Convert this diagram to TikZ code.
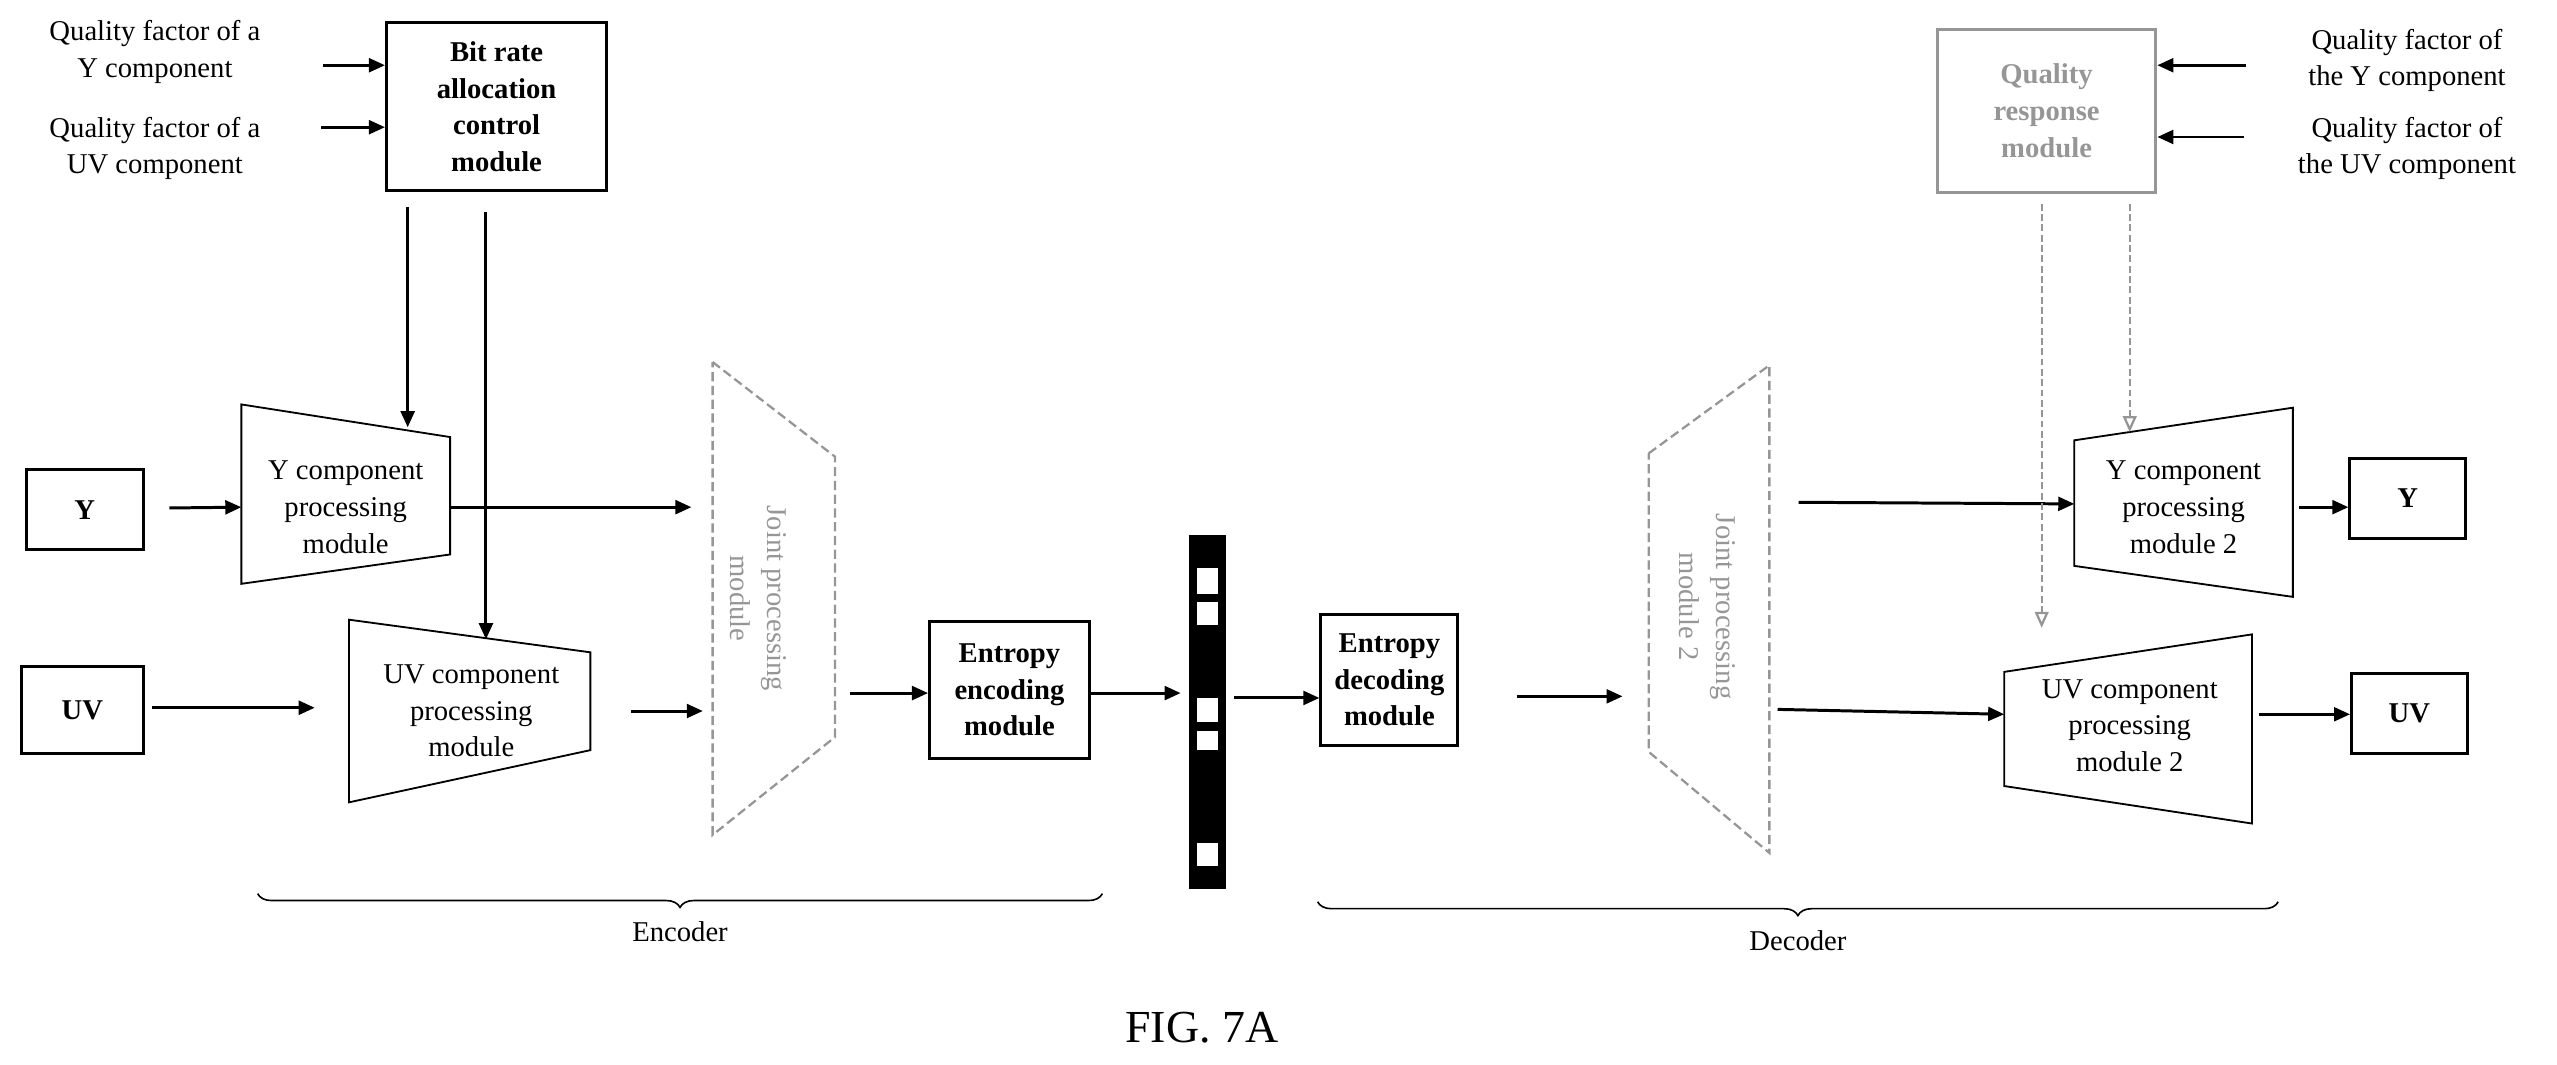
\documentclass[tikz,border=0pt]{standalone}
\usepackage{fontspec}
\setmainfont{Liberation Serif}
\usetikzlibrary{arrows.meta,decorations.pathreplacing}
\definecolor{gr}{RGB}{150,150,150}
\begin{document}
\begin{tikzpicture}[x=0.25mm,y=-0.25mm,
  font=\fontsize{12.5}{16}\selectfont,
  txt/.style={align=center,inner sep=0pt},
  box/.style={draw,line width=1.3pt,align=center,font=\fontsize{12.5}{16}\selectfont\bfseries,inner sep=0pt},
  arr/.style={line width=1.3pt,-{Triangle[length=7pt,width=6pt]}},
  garr/.style={gr,line width=1pt,dashed,dash pattern=on 3pt off 1.5pt,-{Triangle[open,length=7pt,width=6pt]}},
  trap/.style={draw,line width=0.8pt},
  gtrap/.style={draw=gr,line width=1pt,dash pattern=on 4pt off 2pt},
  brc/.style={decorate,decoration={brace,amplitude=6pt},line width=0.7pt}]
\useasboundingbox (0,0) rectangle (1568,653);
% left inputs
\node[txt] (qy) at (95,32) {Quality factor of a\\Y component};
\node[txt] (quv) at (95,91) {Quality factor of a\\UV component};
\node[box,minimum width=135*0.25mm,minimum height=103*0.25mm] (bit) at (304.5,65.5) {Bit rate\\allocation\\control\\module};
\coordinate (a1) at (198,40); \coordinate (a2) at (197,78);
\draw[arr] (a1) -- (a1-|bit.west);
\draw[arr] (a2) -- (a2-|bit.west);
% Y / UV input boxes
\node[box,minimum width=72*0.25mm,minimum height=49*0.25mm] (y) at (52,312.5) {Y};
\node[box,minimum width=75*0.25mm,minimum height=53*0.25mm] (uv) at (50.5,435.5) {UV};
% Y trapezoid
\draw[trap] (148,248) coordinate (yt1) -- (276,268) -- (276,340) -- (148,358) -- cycle;
\node[txt] (ytrap) at (212,311) {Y component\\processing\\module};
% UV trapezoid
\draw[trap] (214,380) coordinate (ut1) -- (362,400) -- (362,460) -- (214,492) -- cycle;
\node[txt] (uvtrap) at (289,436) {UV component\\processing\\module};
\coordinate (yin) at (148,311); \coordinate (uin) at (193,434);
\draw[arr] (y.east)++(15,-1) -- (yin);
\draw[arr] (93,434) -- (uin);
\coordinate (b1) at (250,127); \coordinate (b1e) at (250,262);
\coordinate (b2) at (298,130); \coordinate (b2e) at (298,392);
\draw[arr] (b1) -- (b1e);
\draw[arr] (b2) -- (b2e);
% joint processing module
\draw[gtrap] (437,222) -- (512,280) -- (512,452) -- (437,512) -- cycle;
\node[txt,gr,rotate=-90] (joint) at (465,367) {Joint processing\\module};
\draw[arr] (276,311) -- (424,311);
\draw[arr] (387,436) -- (431,436);
% entropy encoding
\node[box,minimum width=98*0.25mm,minimum height=84*0.25mm] (enc) at (619,423) {Entropy\\encoding\\module};
\draw[arr] (521,425) -- (enc.west|-0,425);
\draw[arr] (enc.east|-0,425) -- (724,425);
% bitstream
\fill (729,328) rectangle (752,545);
\foreach \yy/\hh in {348/16,369/14,428/15,448/12,517/14}
  \fill[white] (734,\yy) rectangle (747,\yy+\hh);
\coordinate (bs) at (752,428);
% entropy decoding
\node[box,minimum width=84*0.25mm,minimum height=80*0.25mm] (dec) at (852,417) {Entropy\\decoding\\module};
\draw[arr] (757,428) -- (dec.west|-0,428);
\draw[arr] (930,427) -- (995,427);
% joint 2
\draw[gtrap] (1011,278) -- (1085,224) -- (1085,523) -- (1011,461) -- cycle;
\node[txt,gr,rotate=-90] (joint2) at (1047,372) {Joint processing\\module 2};
% Y trap 2
\draw[trap] (1272,270) -- (1406,250) -- (1406,366) -- (1272,347) -- cycle;
\node[txt] (ytrap2) at (1339,311) {Y component\\processing\\module 2};
% UV trap 2
\draw[trap] (1229,412) -- (1381,389) -- (1381,505) -- (1229,482) -- cycle;
\node[txt] (uvtrap2) at (1306,445) {UV component\\processing\\module 2};
\draw[arr] (1103,308) -- (1272,309);
\draw[arr] (1090,435) -- (1229,438);
\node[box,minimum width=71*0.25mm,minimum height=49*0.25mm] (y2) at (1476.5,305.5) {Y};
\node[box,minimum width=71*0.25mm,minimum height=49*0.25mm] (uv2) at (1477.5,437.5) {UV};
\draw[arr] (1410,311) -- (y2.west|-0,311);
\draw[arr] (1385,438) -- (uv2.west|-0,438);
% quality response
\node[draw=gr,line width=1.3pt,align=center,text=gr,font=\fontsize{12.5}{16}\selectfont\bfseries,minimum width=134*0.25mm,minimum height=100*0.25mm,inner sep=0pt] (qr) at (1255,68) {Quality\\response\\module};
\node[txt] (qy2) at (1476,37) {Quality factor of\\the Y component};
\node[txt] (quv2) at (1476,91) {Quality factor of\\the UV component};
\draw[arr] (1377,40) -- (qr.east|-0,40);
\draw[arr] (1376,84) -- (qr.east|-0,84);
\draw[garr] (1252,125) -- (1252,385);
\draw[garr] (1306,125) -- (1306,265);
% braces
\draw[brc] (676,548) -- node[below=12pt,txt] (encl) {Encoder} (158,548);
\draw[brc] (1397,553) -- node[below=12pt,txt] (decl) {Decoder} (808,553);
\node[txt,font=\fontsize{20}{24}\selectfont] (fig) at (737,630) {FIG. 7A};
\end{tikzpicture}
\end{document}
